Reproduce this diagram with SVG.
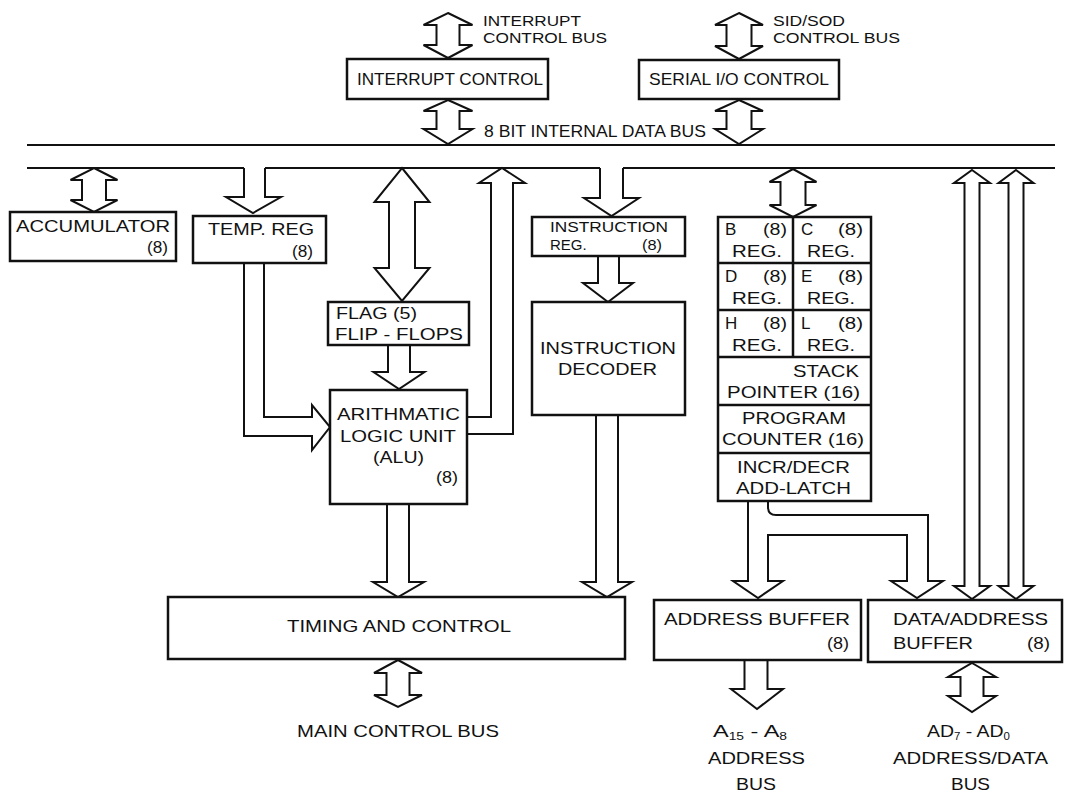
<svg xmlns="http://www.w3.org/2000/svg" width="1065" height="796" viewBox="0 0 1065 796">
<style>
.bx{fill:#fff;stroke:#111;stroke-width:2.5}
.ar{fill:#fff;stroke:#111;stroke-width:2;stroke-linejoin:miter}
.ln{fill:none;stroke:#111;stroke-width:2}
text{font-family:"Liberation Sans",Arial,Helvetica,sans-serif;font-size:17px;fill:#111}
.s{font-size:16px}
.t{font-size:15px}
</style>
<rect width="1065" height="796" fill="#fff"/>
<g id="connectors">
<!-- internal data bus -->
<path class="ln" d="M27,145 H1055"/>
<path class="ln" d="M27,168 H244 M265,168 H600 M623,168 H1055"/>
<!-- interrupt arrows -->
<path class="ar" d="M448,13 L472.5,25 L459.5,25 L459.5,45 L472.5,45 L448,58 L423.5,45 L436.5,45 L436.5,25 L423.5,25 Z"/>
<path class="ar" d="M448,100 L472.5,111 L459.5,111 L459.5,129 L472.5,129 L448,144 L423.5,129 L436.5,129 L436.5,111 L423.5,111 Z"/>
<!-- SID/SOD arrows -->
<path class="ar" d="M739,13 L763,25 L751.5,25 L751.5,46 L763,46 L739,59 L715,46 L726.5,46 L726.5,25 L715,25 Z"/>
<path class="ar" d="M739,100 L763,111 L751.5,111 L751.5,129 L763,129 L739,144 L715,129 L726.5,129 L726.5,111 L715,111 Z"/>
<!-- accumulator -->
<path class="ar" d="M94,168 L117.5,180 L106,180 L106,200 L117.5,200 L94,212 L70.5,200 L82,200 L82,180 L70.5,180 Z"/>
<!-- temp reg in -->
<path class="ar" d="M244,168 L244,197 L226,197 L253,213 L281,197 L265,197 L265,168"/>
<!-- flag double arrow -->
<path class="ar" d="M402,168 L429.5,202 L415,202 L415,268 L429.5,268 L402,301 L374.5,268 L389,268 L389,202 L374.5,202 Z"/>
<!-- ALU return up -->
<path class="ar" d="M467,417 L491,417 L491,183 L479,183 L502,168 L525,183 L513,183 L513,434 L467,434"/>
<!-- temp reg to ALU -->
<path class="ar" d="M244,263 L244,436 L312,436 L312,450 L330,427 L312,405 L312,417 L264,417 L264,263"/>
<!-- flag to ALU -->
<path class="ar" d="M388,345 L388,372 L373.5,372 L399,389 L424.5,372 L410,372 L410,345"/>
<!-- ALU to timing -->
<path class="ar" d="M387,504 L387,582 L373,582 L398,597 L424,582 L409,582 L409,504"/>
<!-- IR in -->
<path class="ar" d="M600,168 L600,198 L584,198 L611.5,216 L639,198 L623,198 L623,168"/>
<!-- IR to ID -->
<path class="ar" d="M598,256 L598,283 L583,283 L608,302 L633,283 L619,283 L619,256"/>
<!-- ID to timing -->
<path class="ar" d="M596,415 L596,582 L582,582 L607,597 L632,582 L618,582 L618,415"/>
<!-- register file bus -->
<path class="ar" d="M793,169 L816.5,182 L805.5,182 L805.5,205 L816.5,205 L793,217 L769.5,205 L780.5,205 L780.5,182 L769.5,182 Z"/>
<!-- long right bus arrows -->
<path class="ar" d="M972,170 L990,183 L979.5,183 L979.5,586 L990,586 L972,599 L954,586 L964.5,586 L964.5,183 L954,183 Z"/>
<path class="ar" d="M1016,170 L1033.5,183 L1023.5,183 L1023.5,586 L1033.5,586 L1016,599 L998.5,586 L1008.5,586 L1008.5,183 L998.5,183 Z"/>
<!-- reg file to address buffer and data/address buffer -->
<path class="ar" d="M748,501 L748,581 L733,581 L758,598 L783,581 L768,581 L768,535 L907,535 L907,581 L891,581 L917,598 L943,581 L928,581 L928,515 L776,515 Q768,515 768,507 L768,501"/>
<!-- address buffer out -->
<path class="ar" d="M744.5,660 L744.5,689 L731,689 L757,709 L783,689 L767.5,689 L767.5,660"/>
<!-- data/address buffer bus -->
<path class="ar" d="M972,663 L996,677 L983.5,677 L983.5,696 L996,696 L972,712 L948,696 L960.5,696 L960.5,677 L948,677 Z"/>
<!-- main control bus -->
<path class="ar" d="M398,660 L422,673 L409.5,673 L409.5,695 L422,695 L398,707 L374,695 L386.5,695 L386.5,673 L374,673 Z"/>
</g>
<g id="labels">
<text class="t" x="483" y="26" textLength="98" lengthAdjust="spacingAndGlyphs">INTERRUPT</text>
<text class="t" x="483" y="43" textLength="124" lengthAdjust="spacingAndGlyphs">CONTROL BUS</text>
<text class="t" x="773" y="26" textLength="72" lengthAdjust="spacingAndGlyphs">SID/SOD</text>
<text class="t" x="773" y="43" textLength="127" lengthAdjust="spacingAndGlyphs">CONTROL BUS</text>
<text x="484" y="137" textLength="222" lengthAdjust="spacingAndGlyphs">8 BIT INTERNAL DATA BUS</text>
<text x="297" y="737" textLength="202" lengthAdjust="spacingAndGlyphs">MAIN CONTROL BUS</text>
<text x="713" y="737" textLength="74" lengthAdjust="spacingAndGlyphs">A<tspan font-size="10" dy="3">15</tspan><tspan dy="-3"> - A</tspan><tspan font-size="10" dy="3">8</tspan></text>
<text x="708" y="764" textLength="97" lengthAdjust="spacingAndGlyphs">ADDRESS</text>
<text x="736" y="790" textLength="40" lengthAdjust="spacingAndGlyphs">BUS</text>
<text x="927" y="737" textLength="83" lengthAdjust="spacingAndGlyphs">AD<tspan font-size="10" dy="3">7</tspan><tspan dy="-3"> - AD</tspan><tspan font-size="10" dy="3">0</tspan></text>
<text x="893" y="764" textLength="155" lengthAdjust="spacingAndGlyphs">ADDRESS/DATA</text>
<text x="951" y="790" textLength="39" lengthAdjust="spacingAndGlyphs">BUS</text>
</g>
<g id="interrupt-control">
<rect class="bx" x="347" y="59" width="201" height="40"/>
<text x="357" y="85" textLength="186" lengthAdjust="spacingAndGlyphs">INTERRUPT CONTROL</text>
</g>
<g id="serial-io-control">
<rect class="bx" x="639" y="60" width="200" height="39"/>
<text x="649" y="85" textLength="180" lengthAdjust="spacingAndGlyphs">SERIAL I/O CONTROL</text>
</g>
<g id="accumulator">
<rect class="bx" x="10" y="212" width="166" height="49"/>
<text x="16" y="232" textLength="154" lengthAdjust="spacingAndGlyphs">ACCUMULATOR</text>
<text x="147" y="253" textLength="21" lengthAdjust="spacingAndGlyphs">(8)</text>
</g>
<g id="temp-reg">
<rect class="bx" x="193" y="216" width="133" height="47"/>
<text x="208" y="235" textLength="106" lengthAdjust="spacingAndGlyphs">TEMP. REG</text>
<text x="292" y="257" textLength="21" lengthAdjust="spacingAndGlyphs">(8)</text>
</g>
<g id="flag-flip-flops">
<rect class="bx" x="328" y="302" width="141" height="43"/>
<text x="336" y="319" textLength="81" lengthAdjust="spacingAndGlyphs">FLAG (5)</text>
<text x="335" y="340" textLength="128" lengthAdjust="spacingAndGlyphs">FLIP - FLOPS</text>
</g>
<g id="alu">
<rect class="bx" x="330" y="390" width="137" height="114"/>
<text x="337" y="420" textLength="123" lengthAdjust="spacingAndGlyphs">ARITHMATIC</text>
<text x="340" y="442" textLength="116" lengthAdjust="spacingAndGlyphs">LOGIC UNIT</text>
<text x="373" y="463" textLength="51" lengthAdjust="spacingAndGlyphs">(ALU)</text>
<text x="436" y="483" textLength="22" lengthAdjust="spacingAndGlyphs">(8)</text>
</g>
<g id="instruction-reg">
<rect class="bx" x="532" y="217" width="153" height="39"/>
<text class="t" x="550" y="232" textLength="118" lengthAdjust="spacingAndGlyphs">INSTRUCTION</text>
<text class="t" x="550" y="250">REG.</text>
<text class="t" x="642" y="250" textLength="20" lengthAdjust="spacingAndGlyphs">(8)</text>
</g>
<g id="instruction-decoder">
<rect class="bx" x="532" y="302" width="153" height="113"/>
<text x="540" y="354" textLength="136" lengthAdjust="spacingAndGlyphs">INSTRUCTION</text>
<text x="558" y="375" textLength="99" lengthAdjust="spacingAndGlyphs">DECODER</text>
</g>
<g id="register-array">
<rect class="bx" x="718" y="217" width="153" height="284"/>
<path class="ln" d="M718,263 H871 M718,310 H871 M718,357 H871 M718,405 H871 M718,453 H871 M793,217 V357" style="stroke-width:2.5"/>
<text x="725" y="235">B</text><text class="s" x="763" y="235" textLength="24" lengthAdjust="spacingAndGlyphs">(8)</text>
<text class="s" x="732" y="257" textLength="50" lengthAdjust="spacingAndGlyphs">REG.</text>
<text x="801" y="235">C</text><text class="s" x="838" y="235" textLength="25" lengthAdjust="spacingAndGlyphs">(8)</text>
<text class="s" x="807" y="257" textLength="48" lengthAdjust="spacingAndGlyphs">REG.</text>
<text x="725" y="282">D</text><text class="s" x="763" y="282" textLength="24" lengthAdjust="spacingAndGlyphs">(8)</text>
<text class="s" x="732" y="304" textLength="50" lengthAdjust="spacingAndGlyphs">REG.</text>
<text x="801" y="282">E</text><text class="s" x="838" y="282" textLength="25" lengthAdjust="spacingAndGlyphs">(8)</text>
<text class="s" x="807" y="304" textLength="48" lengthAdjust="spacingAndGlyphs">REG.</text>
<text x="725" y="329">H</text><text class="s" x="763" y="329" textLength="24" lengthAdjust="spacingAndGlyphs">(8)</text>
<text class="s" x="732" y="351" textLength="50" lengthAdjust="spacingAndGlyphs">REG.</text>
<text x="801" y="329">L</text><text class="s" x="838" y="329" textLength="25" lengthAdjust="spacingAndGlyphs">(8)</text>
<text class="s" x="807" y="351" textLength="48" lengthAdjust="spacingAndGlyphs">REG.</text>
<text x="793" y="377" textLength="66" lengthAdjust="spacingAndGlyphs">STACK</text>
<text x="727" y="398" textLength="133" lengthAdjust="spacingAndGlyphs">POINTER (16)</text>
<text x="742" y="424" textLength="104" lengthAdjust="spacingAndGlyphs">PROGRAM</text>
<text x="722" y="445" textLength="142" lengthAdjust="spacingAndGlyphs">COUNTER (16)</text>
<text x="737" y="473" textLength="113" lengthAdjust="spacingAndGlyphs">INCR/DECR</text>
<text x="736" y="494" textLength="115" lengthAdjust="spacingAndGlyphs">ADD-LATCH</text>
</g>
<g id="timing-and-control">
<rect class="bx" x="168" y="597" width="457" height="62"/>
<text x="287" y="632" textLength="224" lengthAdjust="spacingAndGlyphs">TIMING AND CONTROL</text>
</g>
<g id="address-buffer">
<rect class="bx" x="654" y="600" width="207" height="60"/>
<text x="664" y="625" textLength="186" lengthAdjust="spacingAndGlyphs">ADDRESS BUFFER</text>
<text x="827" y="649" textLength="22" lengthAdjust="spacingAndGlyphs">(8)</text>
</g>
<g id="data-address-buffer">
<rect class="bx" x="868" y="600" width="194" height="62"/>
<text x="893" y="625" textLength="155" lengthAdjust="spacingAndGlyphs">DATA/ADDRESS</text>
<text x="893" y="649" textLength="80" lengthAdjust="spacingAndGlyphs">BUFFER</text>
<text x="1027" y="649" textLength="23" lengthAdjust="spacingAndGlyphs">(8)</text>
</g>
</svg>
